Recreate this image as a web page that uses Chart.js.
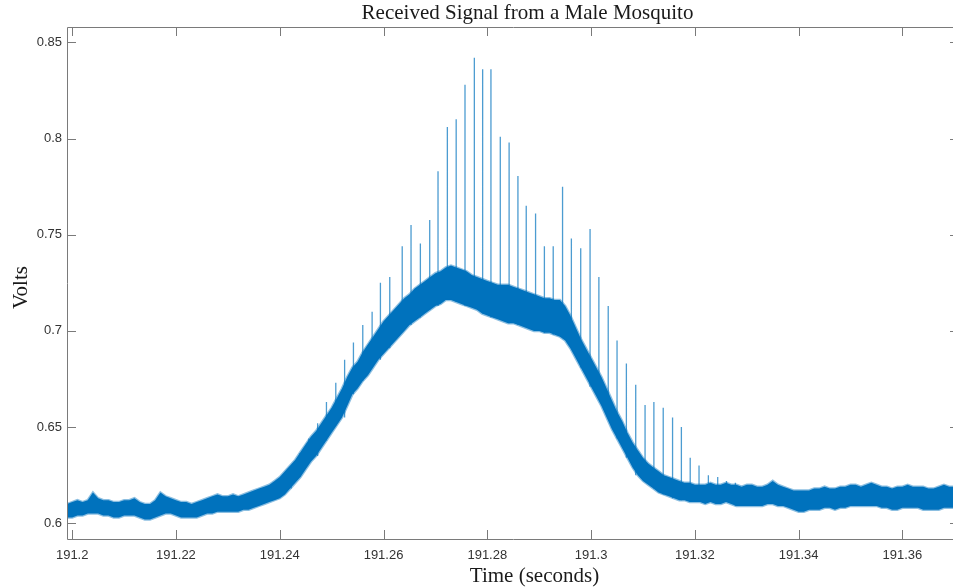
<!DOCTYPE html>
<html>
<head>
<meta charset="utf-8">
<title>Received Signal from a Male Mosquito</title>
<script src="https://cdn.jsdelivr.net/npm/chart.js@4.4.1/dist/chart.umd.min.js"></script>
<style>
  html, body { margin: 0; padding: 0; background: #fff; overflow: hidden; }
  #wrap { width: 962px; height: 587px; position: relative; }
</style>
</head>
<body>
<div id="wrap"><canvas id="chart"></canvas></div>
<script>
// signal band, one pair per millisecond from t0
const t0 = 191.199;
const dt = 0.001;
const bandHigh = [
  0.610, 0.611, 0.612, 0.611, 0.612, 0.616, 0.613, 0.612, 0.612, 0.611,
  0.611, 0.612, 0.612, 0.613, 0.611, 0.610, 0.610, 0.612, 0.616, 0.614,
  0.613, 0.612, 0.611, 0.611, 0.610, 0.611, 0.612, 0.613, 0.614, 0.615,
  0.614, 0.614, 0.615, 0.614, 0.615, 0.616, 0.617, 0.618, 0.619, 0.620,
  0.622, 0.624, 0.627, 0.630, 0.633, 0.637, 0.641, 0.645, 0.648, 0.652,
  0.656, 0.660, 0.665, 0.670, 0.676, 0.681, 0.684, 0.689, 0.693, 0.697,
  0.701, 0.705, 0.708, 0.711, 0.714, 0.717, 0.719, 0.722, 0.724, 0.726,
  0.728, 0.730, 0.731, 0.733, 0.734, 0.733, 0.732, 0.731, 0.729, 0.728,
  0.727, 0.726, 0.725, 0.724, 0.724, 0.724, 0.723, 0.722, 0.721, 0.720,
  0.719, 0.718, 0.717, 0.717, 0.716, 0.716, 0.713, 0.708, 0.702, 0.696,
  0.691, 0.686, 0.681, 0.676, 0.670, 0.664, 0.658, 0.653, 0.647, 0.642,
  0.638, 0.634, 0.631, 0.629, 0.627, 0.625, 0.624, 0.623, 0.622, 0.621,
  0.621, 0.620, 0.620, 0.620, 0.621, 0.620, 0.620, 0.621, 0.620, 0.620,
  0.619, 0.620, 0.620, 0.619, 0.619, 0.620, 0.622, 0.620, 0.619, 0.618,
  0.617, 0.617, 0.617, 0.617, 0.618, 0.618, 0.619, 0.618, 0.618, 0.619,
  0.619, 0.620, 0.620, 0.619, 0.620, 0.621, 0.620, 0.619, 0.619, 0.618,
  0.619, 0.619, 0.620, 0.619, 0.619, 0.619, 0.618, 0.618, 0.619, 0.620,
  0.619, 0.619, 0.618
];
const bandLow = [
  0.603, 0.603, 0.604, 0.604, 0.605, 0.605, 0.605, 0.604, 0.604, 0.603,
  0.603, 0.604, 0.604, 0.604, 0.603, 0.602, 0.602, 0.603, 0.604, 0.605,
  0.605, 0.604, 0.603, 0.603, 0.603, 0.603, 0.604, 0.605, 0.605, 0.606,
  0.606, 0.606, 0.606, 0.606, 0.607, 0.607, 0.608, 0.609, 0.610, 0.611,
  0.612, 0.613, 0.615, 0.618, 0.621, 0.624, 0.628, 0.632, 0.635, 0.639,
  0.643, 0.647, 0.651, 0.655, 0.661, 0.667, 0.670, 0.674, 0.677, 0.681,
  0.685, 0.688, 0.691, 0.694, 0.697, 0.700, 0.703, 0.705, 0.707, 0.709,
  0.711, 0.713, 0.714, 0.716, 0.716, 0.715, 0.714, 0.713, 0.712, 0.711,
  0.709, 0.708, 0.707, 0.706, 0.705, 0.704, 0.704, 0.703, 0.702, 0.701,
  0.700, 0.700, 0.699, 0.699, 0.698, 0.697, 0.695, 0.691, 0.686, 0.681,
  0.676, 0.671, 0.666, 0.661, 0.655, 0.649, 0.644, 0.639, 0.634, 0.629,
  0.625, 0.622, 0.620, 0.618, 0.616, 0.615, 0.614, 0.613, 0.612, 0.612,
  0.611, 0.611, 0.611, 0.610, 0.611, 0.610, 0.610, 0.611, 0.610, 0.609,
  0.609, 0.609, 0.609, 0.609, 0.609, 0.610, 0.610, 0.609, 0.609, 0.608,
  0.607, 0.606, 0.606, 0.607, 0.607, 0.607, 0.608, 0.608, 0.607, 0.608,
  0.608, 0.609, 0.609, 0.609, 0.609, 0.609, 0.609, 0.608, 0.608, 0.607,
  0.607, 0.608, 0.608, 0.608, 0.608, 0.607, 0.607, 0.607, 0.607, 0.608,
  0.608, 0.608, 0.607
];

// wingbeat spikes: time of each spike and the voltage at its tip
const spikeTime = [
  191.2422, 191.2439, 191.2456, 191.2473, 191.2490, 191.2508, 191.2525, 191.2542,
  191.2560, 191.2578, 191.2594, 191.2612, 191.2636, 191.2653, 191.2671, 191.2689,
  191.2705, 191.2723, 191.2740, 191.2757, 191.2775, 191.2791, 191.2807, 191.2825,
  191.2842, 191.2859, 191.2875, 191.2893, 191.2910, 191.2927, 191.2945, 191.2962,
  191.2980, 191.2998, 191.3015, 191.3033, 191.3050, 191.3068, 191.3086, 191.3104,
  191.3121, 191.3139, 191.3157, 191.3174, 191.3191, 191.3208, 191.3226, 191.3244,
  191.3261, 191.3278
];
const spikePeak = [
  0.628, 0.6365, 0.644, 0.652, 0.663, 0.673, 0.685, 0.694,
  0.703, 0.710, 0.725, 0.728, 0.744, 0.755, 0.7455, 0.7576,
  0.783, 0.806, 0.810, 0.828, 0.842, 0.836, 0.836, 0.801,
  0.798, 0.7805, 0.765, 0.761, 0.744, 0.744, 0.775, 0.748,
  0.743, 0.753, 0.728, 0.713, 0.695, 0.683, 0.672, 0.6615,
  0.663, 0.660, 0.655, 0.650, 0.634, 0.630, 0.625, 0.624,
  0.622, 0.621
];

const xTicks = [191.2, 191.22, 191.24, 191.26, 191.28, 191.3, 191.32, 191.34, 191.36];
const xTickLabels = ['191.2', '191.22', '191.24', '191.26', '191.28', '191.3', '191.32', '191.34', '191.36'];
const yTicks = [0.6, 0.65, 0.7, 0.75, 0.8, 0.85];
const yTickLabels = ['0.6', '0.65', '0.7', '0.75', '0.8', '0.85'];

const titleText = 'Received Signal from a Male Mosquito';
const xTitle = 'Time (seconds)';
const yTitle = 'Volts';

const blue = '#0072BD';
const blueSoft = 'rgba(0,114,189,0.45)';
const blueSpike = 'rgba(0,114,189,0.7)';

const highPts = bandHigh.map((v, i) => ({ x: t0 + i * dt, y: v }));
const lowPts = bandLow.map((v, i) => ({ x: t0 + i * dt, y: v }));

// each spike: a vertical stroke from the band up to its tip, then a gap
const spikePts = [];
spikeTime.forEach((t, i) => {
  const k = Math.round((t - t0) / dt);
  spikePts.push({ x: t, y: bandLow[k] }, { x: t, y: spikePeak[i] }, { x: t, y: null });
});

const frame = {
  id: 'frame',
  afterDraw(chart) {
    const { ctx, chartArea: a, scales: { x, y } } = chart;
    ctx.save();
    ctx.strokeStyle = '#7a7a7a';
    ctx.lineWidth = 1;
    ctx.beginPath();
    ctx.rect(Math.round(a.left) + 0.5, Math.round(a.top) + 0.5,
      Math.round(a.right - a.left), Math.round(a.bottom - a.top));
    xTicks.forEach(v => {
      const px = Math.round(x.getPixelForValue(v)) + 0.5;
      ctx.moveTo(px, a.bottom); ctx.lineTo(px, a.bottom - 9);
      ctx.moveTo(px, a.top); ctx.lineTo(px, a.top + 9);
    });
    yTicks.forEach(v => {
      const py = Math.round(y.getPixelForValue(v)) + 0.5;
      ctx.moveTo(a.left, py); ctx.lineTo(a.left + 9, py);
      ctx.moveTo(a.right, py); ctx.lineTo(a.right - 9, py);
    });
    ctx.stroke();

    ctx.fillStyle = '#1a1a1a';
    ctx.font = '21px "Liberation Serif", "Times New Roman", serif';
    ctx.textAlign = 'center';
    ctx.textBaseline = 'alphabetic';
    ctx.fillText(titleText, 527.5, 18.5);
    ctx.fillText(xTitle, 534.5, 581.5);
    ctx.translate(27, 287.5);
    ctx.rotate(-Math.PI / 2);
    ctx.fillText(yTitle, 0, 0);
    ctx.restore();
  }
};

const tickFont = { family: '"Liberation Sans", Arial, sans-serif', size: 13 };

new Chart(document.getElementById('chart'), {
  type: 'line',
  data: {
    datasets: [
      { data: spikePts, borderColor: blueSpike, borderWidth: 1.3, pointRadius: 0, fill: false, spanGaps: false, tension: 0, order: 3 },
      { data: highPts, borderColor: blueSoft, borderWidth: 2.5, pointRadius: 0, fill: false, tension: 0, order: 2 },
      { data: lowPts, borderColor: blueSoft, borderWidth: 2.5, pointRadius: 0, fill: '-1', backgroundColor: blue, tension: 0, order: 1 }
    ]
  },
  options: {
    responsive: true,
    maintainAspectRatio: false,
    animation: false,
    layout: { padding: { top: 27, right: 3, left: 0, bottom: 0 } },
    plugins: { legend: { display: false }, tooltip: { enabled: false }, title: { display: false } },
    scales: {
      x: {
        type: 'linear',
        min: 191.199,
        max: 191.3709,
        grid: { display: false, drawTicks: false },
        border: { display: false },
        afterBuildTicks: s => { s.ticks = xTicks.map(v => ({ value: v })); },
        afterFit: s => { s.height = 48; },
        ticks: { callback: (v, i) => xTickLabels[i], color: '#333', font: tickFont, padding: 9, maxRotation: 0, autoSkip: false }
      },
      y: {
        type: 'linear',
        min: 0.5918,
        max: 0.858,
        grid: { display: false, drawTicks: false },
        border: { display: false },
        afterBuildTicks: s => { s.ticks = yTicks.map(v => ({ value: v })); },
        afterFit: s => { s.width = 67; },
        ticks: { callback: (v, i) => yTickLabels[i], color: '#333', font: tickFont, padding: 5 }
      }
    }
  },
  plugins: [frame]
});
</script>
</body>
</html>
